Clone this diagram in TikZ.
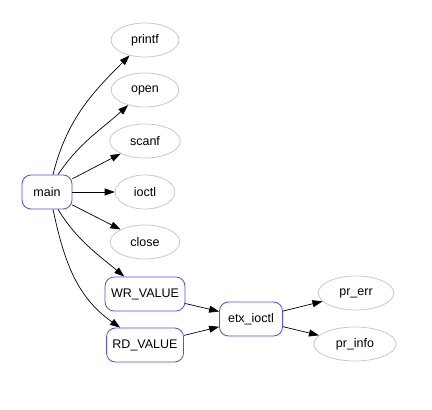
\documentclass[tikz,border=0pt]{standalone}
\usepackage{fontspec}
\setmainfont{Liberation Sans}
\usepackage{tikz}
\usepackage{xcolor}
\usetikzlibrary{calc,arrows.meta,shapes.geometric}

\definecolor{fnblue}{RGB}{88,72,255}
\definecolor{extgray}{RGB}{200,200,200}

\begin{document}
\begin{tikzpicture}[x=1pt,y=1pt,
  font=\fontsize{12.5}{14}\selectfont,
  >={Triangle[length=10pt,width=7pt]},
  fn/.style={draw=fnblue,line width=0.8pt,rounded corners=9pt,minimum height=34pt,inner xsep=6pt},
  ext/.style={draw=extgray,line width=0.8pt,ellipse,minimum height=34pt,inner xsep=10pt},
  call/.style={->,line width=0.7pt,black}]

\useasboundingbox (0,0) rectangle (432,410);

\node[fn,minimum width=50pt] (main) at (47,218) {main};

\node[ext,minimum width=68pt] (printf) at (145,370) {printf};
\node[ext,minimum width=62pt] (open) at (145,320) {open};
\node[ext,minimum width=67pt] (scanf) at (145,269) {scanf};
\node[ext,minimum width=56pt] (ioctl) at (145,218) {ioctl};
\node[ext,minimum width=66pt] (close) at (145,168) {close};

\node[fn,minimum width=78pt] (wr) at (145,116) {WR\_VALUE};
\node[fn,minimum width=76pt] (rd) at (145,65) {RD\_VALUE};
\node[fn,minimum width=63pt] (etx) at (251,91) {etx\_ioctl};

\node[ext,minimum width=73pt] (prerr) at (356,117) {pr\_err};
\node[ext,minimum width=79pt] (prinfo) at (355,66) {pr\_info};

\draw[call] (main.north) ++(6,0) to[out=76,in=225] (printf);
\draw[call] (main.north) ++(11,0) to[out=56,in=222] (open);
\draw[call] (main) -- (scanf);
\draw[call] (main) -- (ioctl);
\draw[call] (main) -- (close);
\draw[call] (main.south) ++(11,0) to[out=-58,in=140] (wr);
\draw[call] (main.south) ++(6,0) to[out=-78,in=145] (rd);

\draw[call] (wr) -- (etx);
\draw[call] (rd) -- (etx);
\draw[call] (etx) -- (prerr);
\draw[call] (etx) -- (prinfo);

\end{tikzpicture}
\end{document}
